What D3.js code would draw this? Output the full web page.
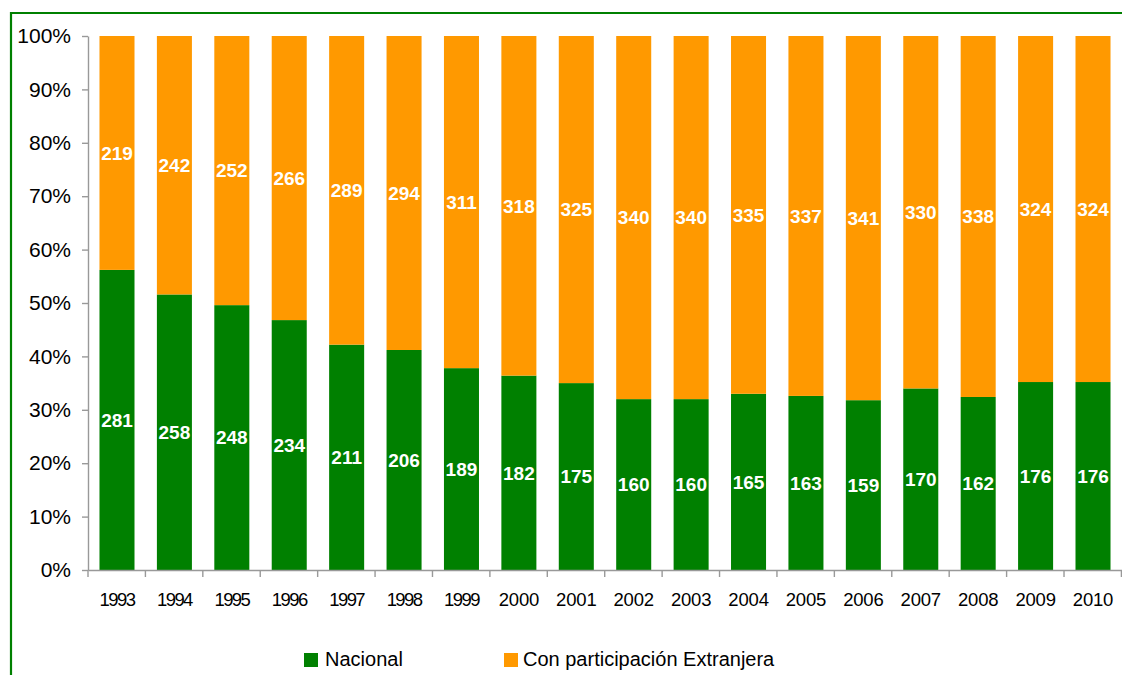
<!DOCTYPE html>
<html><head><meta charset="utf-8">
<script src="https://cdn.jsdelivr.net/npm/d3@7"></script>
<style>body{margin:0;background:#fff}svg{display:block;font-family:"Liberation Sans",Arial,sans-serif}</style>
</head><body><svg id="c" width="1122" height="675"></svg>
<script>
const years = ["1993","1994","1995","1996","1997","1998","1999","2000","2001","2002","2003","2004","2005","2006","2007","2008","2009","2010"];
const nacional = [281,258,248,234,211,206,189,182,175,160,160,165,163,159,170,162,176,176];
const extranjera = [219,242,252,266,289,294,311,318,325,340,340,335,337,341,330,338,324,324];
const seriesNames = ["Nacional","Con participación Extranjera"];
const colors = ["#008000","#FF9900"];
const yTicks = [0,0.1,0.2,0.3,0.4,0.5,0.6,0.7,0.8,0.9,1];

const svg = d3.select("#c");
// frame
svg.append("path").attr("d","M11,675 V13 H1122").attr("fill","none").attr("stroke","#008000").attr("stroke-width",2.2);

const x = d3.scaleBand().domain(years).range([88,1122]).paddingInner(0.39).paddingOuter(0.2);
const y = d3.scaleLinear().domain([0,1]).range([570,36]);

const data = years.map((yr,i)=>({year:yr, n:nacional[i], e:extranjera[i], t:nacional[i]+extranjera[i]}));

// bars
const g = svg.append("g");
data.forEach(d=>{
  const pn = d.n/d.t;
  g.append("rect").attr("x",x(d.year)).attr("width",x.bandwidth()).attr("y",y(pn)).attr("height",y(0)-y(pn)).attr("fill",colors[0]);
  g.append("rect").attr("x",x(d.year)).attr("width",x.bandwidth()).attr("y",y(1)).attr("height",y(pn)-y(1)).attr("fill",colors[1]);
  g.append("text").attr("x",x(d.year)+x.bandwidth()/2).attr("y",y(pn/2)).attr("dy","0.36em").attr("text-anchor","middle")
    .attr("fill","#fff").attr("font-weight","bold").attr("font-size",19).text(d.n);
  g.append("text").attr("x",x(d.year)+x.bandwidth()/2).attr("y",y(pn+(1-pn)/2)).attr("dy","0.36em").attr("text-anchor","middle")
    .attr("fill","#fff").attr("font-weight","bold").attr("font-size",19).text(d.e);
});

// y axis
const ya = svg.append("g").attr("transform","translate(88,0)")
  .call(d3.axisLeft(y).tickValues(yTicks).tickFormat(d=>Math.round(d*100)+"%").tickSize(6).tickSizeOuter(0).tickPadding(11));
ya.selectAll("path,line").attr("stroke","#999").attr("stroke-width",1.4);
ya.selectAll("text").attr("font-size",21).attr("fill","#000").attr("font-family","Liberation Sans, Arial, sans-serif");

// x axis
const xa = svg.append("g").attr("transform","translate(0,570)")
  .call(d3.axisBottom(x).tickSize(0).tickPadding(23));
xa.select("path").attr("stroke","#999").attr("stroke-width",1.4);
xa.selectAll("text").attr("font-size",18.5).attr("fill","#000")
  .attr("letter-spacing",d=>d.startsWith("1")?"-1.6px":"-0.2px")
  .attr("font-family","Liberation Sans, Arial, sans-serif");
// boundary ticks
const step = x.step();
const b0 = x.range()[0];
for(let i=0;i<=years.length;i++){
  svg.append("line").attr("x1",b0+i*step).attr("x2",b0+i*step).attr("y1",570).attr("y2",577).attr("stroke","#999").attr("stroke-width",1.4);
}

// legend
const leg = svg.append("g");
[[304,325],[504,523]].forEach((p,i)=>{
  leg.append("rect").attr("x",p[0]).attr("y",653).attr("width",14).attr("height",14).attr("fill",colors[i]);
  leg.append("text").attr("x",p[1]).attr("y",666).attr("font-size",20).attr("fill","#000").text(seriesNames[i]);
});
</script></body></html>
